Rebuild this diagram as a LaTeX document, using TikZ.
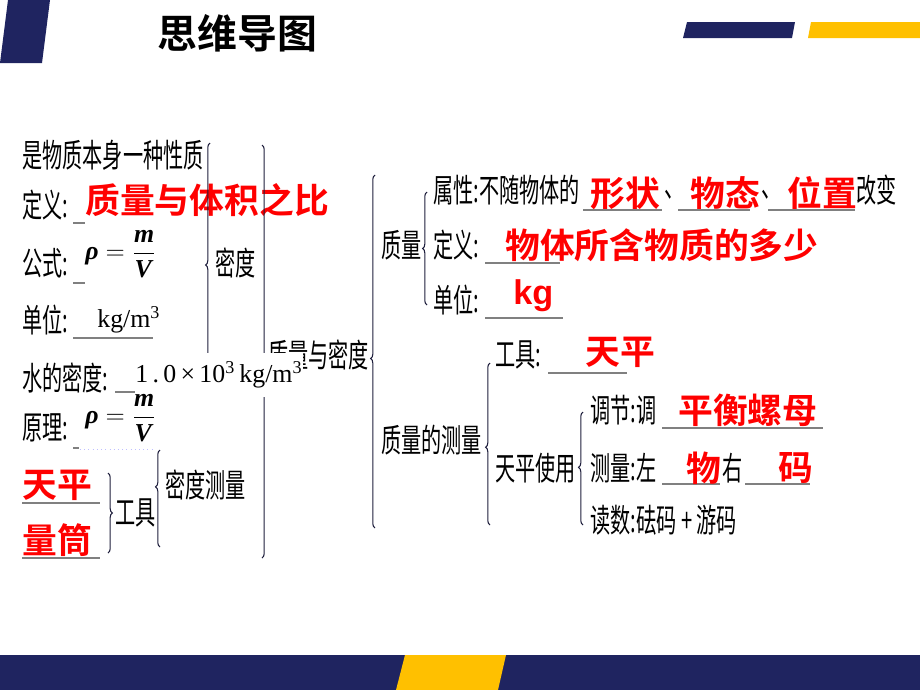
\documentclass[tikz,border=0pt]{standalone}
\usepackage{amsmath}
\usepackage{fontspec}
\usepackage{tikz}
\usetikzlibrary{decorations.pathreplacing}

\setmainfont{Liberation Serif}
\newfontfamily\blkfont{Noto Sans CJK SC}[FakeStretch=0.62]
\newfontfamily\ansfont{Noto Sans CJK SC Bold}
\newfontfamily\kgfont{Liberation Sans Bold}

\newcommand{\blk}{\blkfont\fontsize{18.5pt}{20pt}\selectfont}
\newcommand{\ans}{\ansfont\fontsize{19.8pt}{22pt}\selectfont}
\newcommand{\ttl}{\ansfont\fontsize{22.7pt}{25pt}\selectfont}
\newcommand{\frm}{\rmfamily\fontsize{14.7pt}{17pt}\selectfont}
\newcommand{\bi}[1]{\textbf{\textit{#1}}}

\definecolor{navy}{RGB}{31,36,96}
\definecolor{gold}{RGB}{255,192,0}
\definecolor{ansred}{RGB}{255,0,0}
\definecolor{lineGray}{RGB}{128,128,128}
\definecolor{braceC}{RGB}{30,30,60}

\tikzset{
  txt/.style={anchor=west, inner sep=0pt, font=\blk},
  ans/.style={anchor=west, inner sep=0pt, font=\ans, text=ansred},
  frml/.style={anchor=west, inner sep=0pt, font=\frm},
  uline/.style={draw=lineGray, line width=0.8pt},
  rbrc/.style={draw=braceC, line width=0.6pt, decorate,
    decoration={brace, amplitude=2.5pt, aspect=#1}},
  rbrc/.default=0.5,
  lbrc/.style={draw=braceC, line width=0.6pt, decorate,
    decoration={brace, mirror, amplitude=2.5pt, aspect=#1}},
  lbrc/.default=0.5
}

\begin{document}
\begin{tikzpicture}[x=0.02cm, y=-0.02cm]
    \useasboundingbox (0,0) rectangle (920,690);
    % header and footer bars
    \fill[navy] (8,0) -- (50,0) -- (42,63) -- (0,63) -- cycle;
    \fill[navy] (687,22) -- (795,22) -- (792,38) -- (683,38) -- cycle;
    \fill[gold] (811,22) -- (920,22) -- (920,38) -- (808,38) -- cycle;
    \fill[navy] (0,655) rectangle (920,690);
    \fill[gold] (405,655) -- (506,655) -- (498,690) -- (396,690) -- cycle;
    \node[anchor=west, inner sep=0pt, font=\ttl] (title) at (157,33) {思维导图};

    % density part
    \node[txt] (prop) at (22,155) {是物质本身一种性质};
    \node[txt] (ddef) at (22,205) {定义:};
    \node[ans] (ddefA) at (85,200) {质量与体积之比};
    \draw[uline] (73,223) -- (85,223);
    \node[txt] (dfor) at (22,263) {公式:};
    \draw[uline] (73,283) -- (85,283);
    \node[frml] (dforA) at (85,254) {$\bi{ρ}=\dfrac{\bi{m}}{\bi{V}}$};
    \node[txt] (dunit) at (22,320) {单位:};
    \draw[uline] (73,338) -- (153,338);
    \node[frml] (dunitA) at (97,320) {kg/m\textsuperscript{3}};

    \node[txt] (dens) at (215,263) {密度};
    \node[txt] (mdens) at (268,355) {质量与密度};
    \draw[lbrc] (210,143) -- (210,387);
    \draw[rbrc=0.56] (262,145) -- (262,558);
    \draw[lbrc=0.52] (375,175) -- (375,528);

    % water density covers the braces
    \fill[white] (118,353) rectangle (303,397);
    \node[txt] (water) at (22,378) {水的密度:};
    \draw[uline] (115,392) -- (135,392);
    \node[frml] (waterA) at (135,375) {1\,.\,0\,×\,10\textsuperscript{3}\,kg/m\textsuperscript{3}};

    \node[txt] (prin) at (22,428) {原理:};
    \draw[uline] (73,448) -- (79,448);
    \draw[dotted, blue!25] (80,449) -- (155,449);
    \node[frml] (prinA) at (85,418) {$\bi{ρ}=\dfrac{\bi{m}}{\bi{V}}$};

    \node[ans] (bal) at (22,485) {天平};
    \draw[uline] (22,503) -- (100,503);
    \node[ans] (cyl) at (22,540) {量筒};
    \draw[uline] (22,558) -- (100,558);
    \draw[rbrc] (108,473) -- (108,553);
    \node[txt] (tool) at (115,513) {工具};
    \draw[lbrc=0.38] (160,450) -- (160,547);
    \node[txt] (dmeas) at (165,485) {密度测量};

    % mass part
    \node[txt] (mass) at (381,245) {质量};
    \draw[lbrc] (427,192) -- (427,305);
    \node[txt] (attr) at (433,190) {属性:不随物体的};
    \node[ans] (shape) at (590,193) {形状};
    \draw[uline] (583,210) -- (662,210);
    \node[txt] (c1) at (664,195) {、};
    \node[ans] (state) at (690,193) {物态};
    \draw[uline] (678,210) -- (750,210);
    \node[txt] (c2) at (761,195) {、};
    \node[ans] (pos) at (787,193) {位置};
    \draw[uline] (768,210) -- (855,210);
    \node[txt] (chg) at (856,190) {改变};
    \node[txt] (mdef) at (433,245) {定义:};
    \draw[uline] (485,263) -- (560,263);
    \node[ans] (mdefA) at (505,245) {物体所含物质的多少};
    \node[txt] (munit) at (433,300) {单位:};
    \draw[uline] (485,318) -- (563,318);
    \node[anchor=west, inner sep=0pt, text=ansred, font=\kgfont\fontsize{19.5pt}{22pt}\selectfont] (munitA) at (513,296) {kg};

    % measuring mass
    \node[txt] (mmeas) at (381,440) {质量的测量};
    \draw[lbrc=0.52] (490,363) -- (490,525);
    \node[txt] (mtool) at (495,355) {工具:};
    \draw[uline] (548,373) -- (627,373);
    \node[ans] (mtoolA) at (585,352) {天平};
    \node[txt] (use) at (495,468) {天平使用};
    \draw[lbrc=0.49] (583,412) -- (583,525);
    \node[txt] (adj) at (590,410) {调节:调};
    \draw[uline] (662,428) -- (823,428);
    \node[ans] (adjA) at (678,410) {平衡螺母};
    \node[txt] (wgh) at (590,468) {测量:左};
    \draw[uline] (662,484) -- (720,484);
    \node[ans] (wghA) at (686,468) {物};
    \node[txt] (right) at (722,468) {右};
    \draw[uline] (745,484) -- (810,484);
    \node[ans] (wghB) at (778,468) {码};
    \node[txt] (read) at (590,520) {读数:砝码 + 游码};
\end{tikzpicture}
\end{document}
